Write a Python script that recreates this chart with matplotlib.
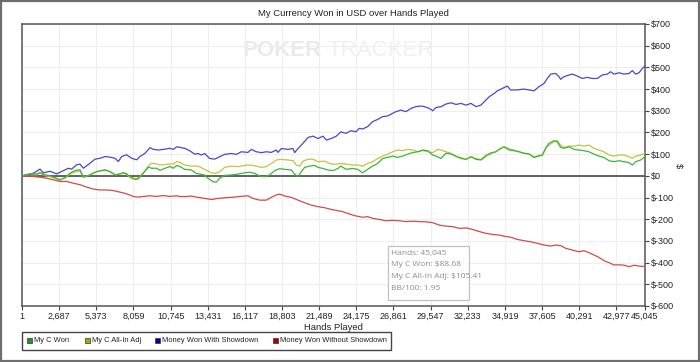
import matplotlib
matplotlib.use("Agg")
import matplotlib.pyplot as plt
from matplotlib.patches import Rectangle

# hands played / dollars
blue_hands = [1, 820, 1302, 1543, 2025, 2507, 2869, 3351, 3592, 3953, 4194, 4435, 4917, 5279, 5640, 6002,
              6363, 6725, 6966, 7207, 7568, 7930, 8291, 8532, 8894, 9255, 9496, 9858, 10219, 10701, 10942,
              11183, 11424, 11761, 12123, 12484, 12725, 12966, 13207, 13569, 13930, 14292, 14653, 15135,
              15497, 15858, 16340, 16581, 16943, 17304, 17666, 18027, 18389, 18509, 18750, 19232, 19594,
              19714, 19955, 20317, 20678, 21040, 21401, 21763, 22004, 22365, 22727, 23064, 23425, 23787,
              24148, 24389, 24630, 24992, 25353, 25715, 26076, 26438, 26799, 27040, 27402, 27763, 28125,
              28486, 28848, 29089, 29450, 29691, 29932, 30294, 30655, 31017, 31378, 31740, 32101, 32463,
              32824, 33186, 33427, 33788, 34150, 34367, 34729, 35090, 35331, 35813, 36295, 36657, 37018,
              37380, 37741, 37982, 38223, 38585, 38826, 38946, 39187, 39549, 39790, 40151, 40513, 40874,
              41236, 41597, 41959, 42320, 42561, 42802, 43164, 43525, 43887, 44127, 44368, 44609, 44850,
              45045]
blue_vals = [0, 12, 31, 14, 21, 9, 20, 35, 31, 51, 54, 35, 58, 77, 81, 89, 86, 81, 66, 89, 97, 81, 74, 89,
             104, 130, 122, 119, 122, 127, 122, 134, 131, 127, 116, 100, 103, 96, 103, 80, 77, 88, 99, 103,
             99, 111, 108, 122, 111, 107, 111, 108, 119, 108, 126, 122, 126, 107, 126, 150, 177, 183, 172,
             183, 165, 172, 183, 203, 196, 208, 203, 219, 216, 227, 250, 260, 273, 276, 288, 296, 303, 296,
             311, 319, 322, 319, 311, 300, 315, 319, 331, 337, 329, 334, 326, 334, 319, 326, 342, 365, 380,
             392, 403, 414, 396, 396, 400, 396, 392, 411, 426, 449, 469, 472, 457, 445, 457, 465, 469, 460,
             449, 454, 449, 449, 465, 469, 480, 469, 475, 469, 472, 485, 469, 475, 495, 507]

green_hands = [1, 579, 1061, 1302, 1664, 2025, 2387, 2748, 3110, 3471, 3833, 4194, 4435, 4676, 5038, 5399,
               5761, 6002, 6363, 6725, 7086, 7327, 7568, 7809, 8171, 8412, 8773, 9135, 9376, 9737, 9978,
               10340, 10701, 10942, 11183, 11424, 11761, 12243, 12605, 12966, 13207, 13448, 13810, 14051,
               14292, 14653, 15135, 15617, 16099, 16461, 16822, 17184, 17545, 17907, 18268, 18630, 18991,
               19473, 19714, 19955, 20196, 20437, 20799, 21160, 21401, 21763, 22124, 22486, 22847, 23064,
               23425, 23907, 24269, 24630, 24992, 25353, 25715, 26076, 26438, 26799, 27161, 27522, 27884,
               28245, 28607, 28968, 29330, 29691, 29932, 30294, 30655, 31017, 31378, 31740, 32101, 32463,
               32824, 33186, 33547, 33909, 34270, 34488, 34849, 35211, 35572, 35934, 36295, 36657, 37018,
               37380, 37621, 37862, 38103, 38464, 38705, 38946, 39187, 39549, 39910, 40272, 40633, 40995,
               41356, 41718, 42079, 42441, 42802, 43164, 43525, 43887, 44127, 44368, 44730, 45045]
green_vals = [0, 9, 9, 15, 5, 0, -8, -18, -8, 12, 25, 28, -6, -3, 9, 20, 25, 28, 20, 5, 9, 15, 9, -3, -15,
              -11, 12, 40, 35, 35, 25, 35, 43, 35, 48, 43, 30, 27, 11, 7, 4, -11, -27, -29, -11, 2, 4, 8,
              14, 17, 11, -1, -4, 4, 24, 33, 30, 27, 8, -4, 19, 39, 45, 48, 39, 34, 27, 24, 34, 45, 30, 34,
              30, 14, 30, 45, 57, 80, 85, 91, 85, 91, 100, 107, 111, 119, 116, 96, 91, 80, 104, 101, 91, 80,
              76, 88, 76, 73, 91, 104, 111, 122, 134, 119, 116, 111, 104, 101, 85, 91, 96, 127, 150, 162,
              157, 131, 127, 134, 122, 119, 116, 111, 100, 91, 85, 70, 65, 70, 65, 61, 50, 65, 73, 88.68]

yellow_hands = [1, 579, 1061, 1302, 1664, 2025, 2387, 2748, 3110, 3471, 3833, 4194, 4435, 4676, 5038, 5399,
                5761, 6002, 6363, 6725, 7086, 7327, 7568, 7809, 8171, 8412, 8773, 9135, 9376, 9737, 9978,
                10340, 10701, 10942, 11183, 11424, 11761, 12243, 12725, 13207, 13689, 13930, 14292, 14653,
                15135, 15617, 16099, 16461, 16943, 17304, 17666, 18027, 18389, 18750, 19232, 19594, 19834,
                20076, 20317, 20678, 21040, 21401, 21883, 22245, 22606, 22847, 23064, 23425, 23907, 24269,
                24630, 24992, 25353, 25715, 26076, 26438, 26799, 27161, 27522, 27884, 28245, 28607, 28968,
                29330, 29691, 30053, 30294, 30655, 31017, 31378, 31740, 32101, 32463, 32824, 33186, 33547,
                33909, 34270, 34488, 34849, 35211, 35572, 35934, 36295, 36657, 37018, 37380, 37621, 37862,
                38103, 38464, 38705, 38946, 39187, 39549, 39910, 40272, 40633, 40995, 41356, 41718, 42079,
                42441, 42802, 43164, 43525, 43887, 44127, 44368, 44730, 45045]
yellow_vals = [0, 6, 5, 12, 2, -3, -12, -20, -10, 8, 18, 22, -4, -2, 8, 18, 24, 26, 18, 5, 8, 14, 6, -8,
               -18, -15, 14, 45, 58, 55, 50, 52, 55, 54, 66, 62, 50, 45, 45, 30, 14, 11, 19, 39, 45, 42,
               48, 50, 45, 39, 42, 57, 73, 76, 73, 70, 50, 45, 68, 76, 77, 65, 68, 57, 53, 55, 57, 54, 50,
               50, 45, 57, 65, 80, 91, 100, 111, 119, 116, 122, 119, 111, 116, 111, 107, 122, 119, 111,
               104, 88, 85, 76, 88, 80, 76, 96, 107, 111, 122, 134, 126, 119, 111, 104, 101, 85, 96, 93,
               127, 142, 157, 162, 142, 131, 137, 137, 142, 137, 142, 127, 119, 111, 96, 91, 96, 96, 88,
               81, 91, 96, 105.41]

red_hands = [1, 820, 1302, 1784, 2266, 2748, 3230, 3712, 4194, 4676, 5158, 5640, 6122, 6604, 7086, 7568,
             8050, 8412, 8773, 9255, 9737, 10219, 10701, 11183, 11424, 11761, 12243, 12725, 13207, 13689,
             14171, 14653, 15135, 15617, 16099, 16340, 16702, 17184, 17666, 18027, 18389, 18630, 18991,
             19473, 19955, 20437, 20919, 21401, 21883, 22365, 22847, 23184, 23666, 24148, 24630, 24992,
             25353, 25835, 26317, 26799, 27281, 27763, 28245, 28727, 29209, 29691, 30173, 30655, 31137,
             31619, 32101, 32583, 33065, 33547, 34029, 34488, 34849, 35331, 35813, 36295, 36777, 37259,
             37741, 38223, 38585, 38946, 39308, 39790, 40272, 40633, 40995, 41356, 41718, 42079, 42441,
             42802, 43164, 43525, 43887, 44248, 44609, 45045]
red_vals = [0, -3, -6, -11, -18, -26, -26, -34, -41, -52, -61, -65, -65, -68, -75, -83, -95, -98, -95, -92,
            -95, -91, -95, -92, -95, -96, -93, -99, -104, -109, -104, -101, -99, -96, -93, -92, -104, -112,
            -112, -99, -88, -84, -93, -99, -112, -124, -135, -142, -147, -155, -161, -165, -176, -185,
            -191, -188, -196, -201, -207, -205, -207, -211, -209, -211, -212, -216, -227, -232, -234,
            -242, -240, -247, -257, -265, -270, -273, -278, -283, -293, -299, -304, -311, -319, -324,
            -319, -322, -334, -342, -350, -345, -354, -365, -376, -391, -400, -411, -410, -412, -419,
            -412, -416, -418]

x_ticks = [1, 2687, 5373, 8059, 10745, 13431, 16117, 18803, 21489, 24175, 26861, 29547, 32233, 34919,
           37605, 40291, 42977, 45045]
y_ticks = [700, 600, 500, 400, 300, 200, 100, 0, -100, -200, -300, -400, -500, -600]
series_names = ["My C Won", "My C All-In Adj", "Money Won With Showdown", "Money Won Without Showdown"]
tooltip_lines = ["Hands: 45,045", "My C Won: $88.68", "My C All-In Adj: $105.41", "BB/100: 1.95"]

W, H = 700, 362


def fx(px):
    return px / W


def fy(py):
    return 1 - py / H


plt.rcParams['font.family'] = ['Liberation Sans', 'DejaVu Sans']

fig = plt.figure(figsize=(7, 3.62), dpi=100)
fig.patches.append(Rectangle((0.001, 0.002), 0.997, 0.995, transform=fig.transFigure,
                             fill=False, edgecolor='#6e6e6e', linewidth=1.6))
ax = fig.add_axes([fx(22), fy(306), fx(623), 282 / H])

# watermark
ax.text((242 - 22) / 623, 0.905, "POKER", transform=ax.transAxes, fontsize=16, color='#eaeaea',
        fontweight='bold', ha='left', va='center', zorder=0)
ax.text((328 - 22) / 623, 0.905, "TRACKER", transform=ax.transAxes, fontsize=16, color='#f0f0f0',
        ha='left', va='center', zorder=0)

ax.plot(green_hands, green_vals, color='#3cb43c', lw=0.9, zorder=4)
ax.plot(yellow_hands, yellow_vals, color='#c4c43c', lw=0.9, zorder=3)
ax.plot(blue_hands, blue_vals, color='#4848cc', lw=0.9, zorder=3)
ax.plot(red_hands, red_vals, color='#cc4c4c', lw=0.9, zorder=3)
ax.axhline(0, color='#555555', lw=1.3, zorder=2)

ax.set_xlim(1, 45045)
ax.set_ylim(-600, 700)
ax.set_xticks(x_ticks)
ax.set_xticklabels(["{:,}".format(v) for v in x_ticks])
ax.set_yticks(y_ticks)
ax.set_yticklabels(["${}".format(v) for v in y_ticks])
ax.yaxis.tick_right()
ax.tick_params(axis='both', labelsize=6.5, length=3, width=0.8, color='#444444', pad=1.5,
               labelcolor='#222222')
ax.grid(True, color='#eeeeee', lw=0.8, zorder=0)
ax.set_axisbelow(True)
for s in ax.spines.values():
    s.set_color('#555555')
    s.set_linewidth(1.1)

ax.set_xlabel("Hands Played", fontsize=6.8, color='#222222', labelpad=1)
fig.text(fx(678), fy(166), "$", fontsize=6.8, color='#222222', rotation=270,
         ha='center', va='center')
fig.text(0.505, fy(14), "My Currency Won in USD over Hands Played", fontsize=6.8,
         color='#222222', ha='center', va='center')

# tooltip
fig.patches.append(Rectangle((fx(388), fy(300)), fx(81), 54 / H, transform=fig.transFigure,
                             facecolor='white', edgecolor='#c0c0c0', lw=0.9, zorder=6))
for i, line in enumerate(tooltip_lines):
    fig.text(fx(391), fy(253 + 12 * i), line, fontsize=6, color='#8c8c8c',
             family=['Open Sans', 'DejaVu Sans'], ha='left', va='center', zorder=7)

# legend, drawn by hand to keep the item spacing of the original
marker_colors = ['#1a9a1a', '#a8a800', '#0000a8', '#a80000']
marker_x = [27, 85, 155, 273]
fig.patches.append(Rectangle((fx(22), fy(350)), fx(369), 18 / H, transform=fig.transFigure,
                             facecolor='white', edgecolor='#444444', lw=1.0))
for name, c, mx in zip(series_names, marker_colors, marker_x):
    fig.patches.append(Rectangle((fx(mx), fy(343)), fx(5), 5 / H, transform=fig.transFigure,
                                 facecolor=c, edgecolor='#333333', lw=0.5))
    fig.text(fx(mx + 7.5), fy(340.5), name, fontsize=5.4, color='#222222', ha='left', va='center')

fig.savefig("out.png", dpi=100)
